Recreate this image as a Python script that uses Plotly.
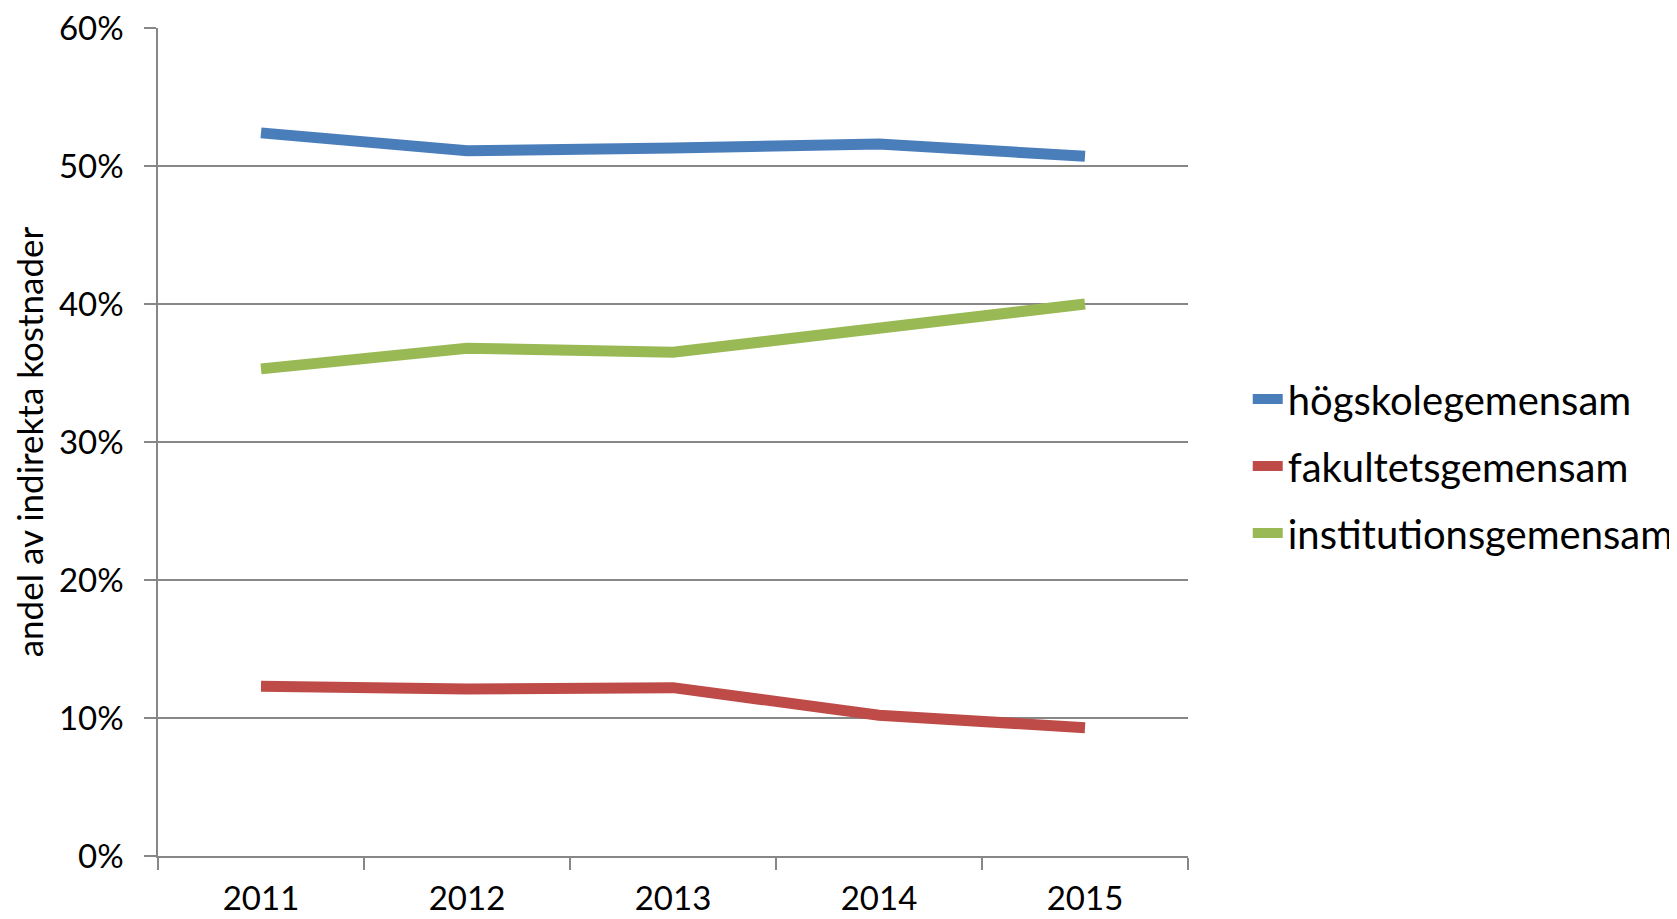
import plotly.graph_objects as go

# Data
years = ['2011', '2012', '2013', '2014', '2015']
hogskolegemensam = [0.524, 0.511, 0.513, 0.516, 0.507]
fakultetsgemensam = [0.123, 0.121, 0.122, 0.102, 0.093]
institutionsgemensam = [0.353, 0.368, 0.365, 0.382, 0.400]

series_names = ['högskolegemensam', 'fakultetsgemensam', 'institutionsgemensam']
series_values = [hogskolegemensam, fakultetsgemensam, institutionsgemensam]
series_colors = ['#4A7EBB', '#BE4B48', '#98B954']

y_tickvals = [0, 0.1, 0.2, 0.3, 0.4, 0.5, 0.6]

FONT = 'Lato'
GRID = '#878787'

fig = go.Figure()

for name, vals, col in zip(series_names, series_values, series_colors):
    fig.add_trace(go.Scatter(
        x=years,
        y=vals,
        mode='lines',
        name=name,
        legendgroup=name,
        line={'color': col, 'width': 11},
    ))

# page body has an 8px margin; figure is made a bit wider so the legend
# does not push the right margin
fig.update_layout(
    width=1700,
    height=911,
    margin={'l': 150, 'r': 520, 't': 20, 'b': 63},
    paper_bgcolor='white',
    plot_bgcolor='white',
    font={'family': FONT, 'size': 33, 'color': 'black'},
    showlegend=True,
    legend={
        'x': 1.058, 'xanchor': 'left',
        'y': 0.471, 'yanchor': 'middle',
        'font': {'size': 40, 'family': FONT},
        'tracegroupgap': 12,
        'bgcolor': 'rgba(0,0,0,0)',
    },
)

fig.update_xaxes(
    type='category',
    range=[-0.5, 4.5],
    automargin=False,
    showgrid=False,
    showline=True,
    linecolor=GRID,
    linewidth=1.5,
    ticks='outside',
    tickson='boundaries',
    ticklen=12,
    tickcolor=GRID,
    tickwidth=1.5,
    ticklabelstandoff=13,
    tickfont={'size': 33, 'family': FONT},
)

fig.update_yaxes(
    range=[0, 0.6],
    automargin=False,
    tickvals=y_tickvals,
    tickformat='.0%',
    ticklabeloverflow='allow',
    showgrid=True,
    gridcolor=GRID,
    gridwidth=1.5,
    zeroline=False,
    showline=True,
    linecolor=GRID,
    linewidth=1.5,
    ticks='outside',
    ticklen=12,
    tickcolor=GRID,
    tickwidth=1.5,
    ticklabelstandoff=14,
    tickfont={'size': 33, 'family': FONT},
    title={'text': 'andel av indirekta kostnader', 'font': {'size': 35, 'family': FONT}, 'standoff': 8},
)

fig.write_html('out.html')
